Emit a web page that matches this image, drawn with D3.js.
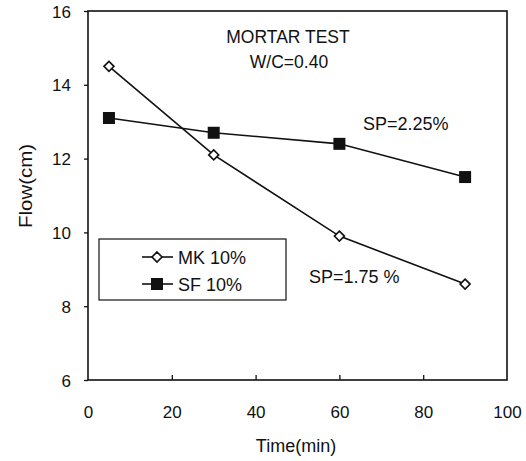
<!DOCTYPE html>
<html>
<head>
<meta charset="UTF-8">
<title>Mortar test flow</title>
<style>
  body { margin: 0; background: #fff; }
  text { font-family: "Liberation Sans", Arial, sans-serif; fill: #111; }
  .frame { fill: none; stroke: #111; stroke-width: 1.6px; }
  .series { fill: none; stroke: #111; stroke-width: 1.6px; }
</style>
</head>
<body>
<script src="https://d3js.org/d3.v7.min.js"></script>
<script>
const times = [5, 30, 60, 90];
const mkFlow = [14.5, 12.1, 9.9, 8.6];
const sfFlow = [13.1, 12.7, 12.4, 11.5];
const xTicks = [0, 20, 40, 60, 80, 100];
const yTicks = [6, 8, 10, 12, 14, 16];

const width = 526, height = 461;
const plotL = 88, plotR = 507, plotT = 11, plotB = 380;

const x = d3.scaleLinear().domain([0, 100]).range([plotL, plotR]);
const y = d3.scaleLinear().domain([6, 16]).range([plotB, plotT]);

const svg = d3.select("body").append("svg").attr("width", width).attr("height", height);

// y axis, ticks outward
const yAxis = svg.append("g").attr("transform", `translate(${plotL},0)`)
  .call(d3.axisLeft(y).tickValues(yTicks).tickSize(4).tickPadding(13));
yAxis.select(".domain").remove();
yAxis.selectAll("text").style("font-size", "17px").attr("dy", "0.36em");

// x axis, ticks inward
const xAxis = svg.append("g").attr("transform", `translate(0,${plotB})`)
  .call(d3.axisBottom(x).tickValues(xTicks).tickSize(-5).tickPadding(26));
xAxis.select(".domain").remove();
xAxis.selectAll("text").style("font-size", "17px");
xAxis.selectAll(".tick line").filter(d => d === 0 || d === 100).remove();
svg.selectAll(".tick line").attr("stroke", "#111").attr("stroke-width", 1.3);

svg.append("rect").attr("class", "frame")
  .attr("x", plotL).attr("y", plotT).attr("width", plotR - plotL).attr("height", plotB - plotT);

svg.append("text").attr("x", 296).attr("y", 452)
  .attr("text-anchor", "middle").style("font-size", "18px").text("Time(min)");
svg.append("text").attr("transform", "translate(32,186) rotate(-90)")
  .attr("text-anchor", "middle").style("font-size", "18px")
  .attr("textLength", 84).attr("lengthAdjust", "spacingAndGlyphs").text("Flow(cm)");

const line = d3.line().x(d => x(d[0])).y(d => y(d[1]));
const mk = times.map((t, i) => [t, mkFlow[i]]);
const sf = times.map((t, i) => [t, sfFlow[i]]);

svg.append("path").attr("class", "series").attr("d", line(mk));
svg.append("path").attr("class", "series").attr("d", line(sf));

const diamond = (g, cx, cy) => g.append("path")
  .attr("d", `M${cx},${cy - 5}L${cx + 5},${cy}L${cx},${cy + 5}L${cx - 5},${cy}Z`)
  .attr("fill", "#fff").attr("stroke", "#111").attr("stroke-width", 1.6);
const square = (g, cx, cy) => g.append("rect")
  .attr("x", cx - 6).attr("y", cy - 6).attr("width", 12).attr("height", 12)
  .attr("fill", "#111");

mk.forEach(d => diamond(svg, x(d[0]), y(d[1])));
sf.forEach(d => square(svg, x(d[0]), y(d[1])));

// annotations
svg.append("text").attr("x", 288).attr("y", 43).attr("text-anchor", "middle")
  .style("font-size", "17.5px").text("MORTAR TEST");
svg.append("text").attr("x", 289).attr("y", 68).attr("text-anchor", "middle")
  .style("font-size", "17.5px").text("W/C=0.40");
svg.append("text").attr("x", 363).attr("y", 130).style("font-size", "18px").text("SP=2.25%");
svg.append("text").attr("x", 309).attr("y", 283).style("font-size", "18px").text("SP=1.75 %");

// legend
svg.append("rect").attr("x", 99).attr("y", 239).attr("width", 187).attr("height", 61)
  .attr("fill", "#fff").attr("stroke", "#111").attr("stroke-width", 1.2);
const legend = [["MK 10%", diamond, 257], ["SF 10%", square, 284]];
legend.forEach(([label, mark, ly]) => {
  svg.append("line").attr("x1", 142).attr("x2", 173).attr("y1", ly).attr("y2", ly)
    .attr("stroke", "#111").attr("stroke-width", 1.6);
  mark(svg, 157, ly);
  svg.append("text").attr("x", 178).attr("y", ly + 6.5).style("font-size", "18px").text(label);
});
</script>
</body>
</html>
